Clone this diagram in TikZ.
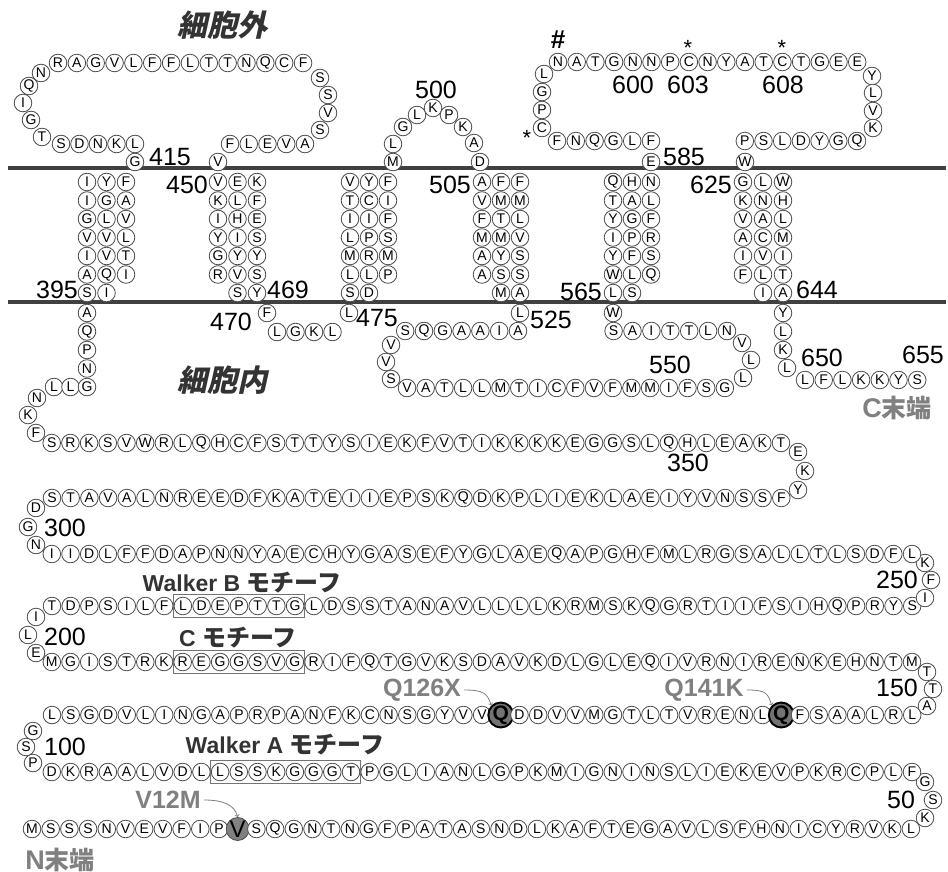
\documentclass[tikz,border=0pt]{standalone}
\usepackage{fontspec}
\setmainfont{Liberation Sans}
\newfontfamily\jp{Noto Sans CJK JP}
\newfontfamily\jpsl{Noto Sans CJK JP}[FakeSlant=0.22]
\definecolor{labc}{HTML}{333333}
\definecolor{mutc}{HTML}{808080}
\newcount\rn
\def\rseg#1#2#3#4#5{\def\sx{#1}\def\sy{#2}\def\sdx{#3}\def\sdy{#4}\rsegloop#5\relax}
\def\rsegloop#1{\ifx#1\relax\else\global\advance\rn by 1\relax\node[res] (r\the\rn) at (\sx,\sy) {#1};\pgfmathsetmacro\sx{\sx+\sdx}\pgfmathsetmacro\sy{\sy+\sdy}\expandafter\rsegloop\fi}
\def\rone#1#2#3{\rseg{#1}{#2}{0}{0}{#3}}
\def\rspec#1#2#3#4{\global\advance\rn by 1\relax\node[#4] (r\the\rn) at (#1,#2) {#3};}
\begin{document}
\begin{tikzpicture}[x=1pt,y=-1pt,
 res/.style={circle,draw=black!70,fill=white,line width=0.8pt,minimum size=17.6pt,inner sep=0pt,font=\fontsize{14}{14}\selectfont},
 vres/.style={circle,draw=black!70,fill=mutc,line width=0.8pt,minimum size=17.6pt,inner sep=0pt,font=\fontsize{24}{24}\selectfont},
 qres/.style={circle,draw=black,fill=black!55,line width=2pt,minimum size=17pt,inner sep=0pt,font=\fontsize{21}{21}\selectfont\bfseries},
 num/.style={inner sep=0pt,font=\fontsize{25}{25}\selectfont},
 region/.style={inner sep=0pt,text=labc,font=\jpsl\bfseries\fontsize{30}{30}\selectfont},
 motif/.style={inner sep=0pt,text=labc,font=\bfseries\fontsize{23}{23}\selectfont},
 mut/.style={inner sep=0pt,text=mutc,font=\bfseries\fontsize{25}{25}\selectfont},
 term/.style={inner sep=0pt,text=mutc,font=\bfseries\fontsize{27}{27}\selectfont},
 starlab/.style={inner sep=0pt,font=\fontsize{22}{22}\selectfont},
 mbox/.style={draw=black!55,line width=0.9pt},
 arr/.style={draw=mutc,line width=0.8pt,->},
 memb/.style={line width=3.5pt,draw=black!75}
]
\useasboundingbox (0,0) rectangle (948,872);
\fill[white] (0,0) rectangle (948,872);
% membranes
\draw[memb] (8,168) -- (946,168);
\draw[memb] (8,302) -- (946,302);
% ---------- residues in sequence order ----------
% R1 (1-48)
\rseg{32}{829}{18.7}{0}{MSSSNVEVFIP}
\rspec{237.7}{829}{V}{vres}
\rseg{256.4}{829}{18.7}{0}{SQGNTNGFPATASNDLKAFTEGAVLSFHNICYRVKL}
\rone{925}{818}{K}\rone{933}{800}{S}\rone{925}{782}{G}
% R2 (52-98)
\rseg{912}{772}{-18.7}{0}{FLPCRKPVEKEILSNINGIMKPGLNAILGPTGGGKSSLLDVLAARKD}
\rone{33}{763}{P}\rone{26}{747}{S}\rone{33}{731}{G}
% R3 (102-148)
\rseg{52}{715}{18.7}{0}{LSGDVLINGAPRPANFKCNSGYVV}
\rspec{500.8}{715}{Q}{qres}
\rseg{519.5}{715}{18.7}{0}{DDVVMGTLTVRENL}
\rspec{781.3}{715}{Q}{qres}
\rseg{800}{715}{18.7}{0}{FSAALRL}
\rone{927}{706}{A}\rone{933}{689}{T}\rone{927}{672}{T}
% R4 (152-198)
\rseg{912}{662}{-18.7}{0}{MTNHEKNERINRVIQELGLDKVADSKVGTQFIRGVSGGERKRTSIGM}
\rone{36}{653}{E}\rone{28}{635}{L}\rone{36}{617}{I}
% R5 (202-248)
\rseg{52}{606}{18.7}{0}{TDPSILFLDEPTTGLDSSTANAVLLLLKRMSKQGRTIIFSIHQPRYS}
\rone{925}{598}{I}\rone{931}{580}{F}\rone{925}{563}{K}
% R6 (252-298)
\rseg{912}{554}{-18.7}{0}{LFDSLTLLASGRLMFHGPAQEALGYFESAGYHCEAYNNPADFFLDII}
\rone{36}{545}{N}\rone{28}{527}{G}\rone{36}{508}{D}
% R7 (302-341)
\rseg{52}{498}{18.7}{0}{STAVALNREEDFKATEIIEPSKQDKPLIEKLAEIYVNSSF}
\rone{798}{490}{Y}\rone{805}{471}{K}\rone{798}{452}{E}
% R8 (345-384)
\rseg{781}{443}{-18.7}{0}{TKAELHQLSGGEKKKKITVFKEISYTTSFCHQLRWVSKRS}
\rone{36}{433}{F}\rone{28}{415}{K}\rone{37}{398}{N}
\rseg{54}{387}{16.5}{0}{LLG}
\rseg{87}{368.5}{0}{-18.5}{NPQA}
% TM1
\rseg{87}{293}{19.5}{0}{SI}
\rseg{87}{274.5}{19.5}{0}{AQI}
\rseg{87}{256}{19.5}{0}{IVT}
\rseg{87}{237.5}{19.5}{0}{VVL}
\rseg{87}{219}{19.5}{0}{GLV}
\rseg{87}{200.5}{19.5}{0}{IGA}
\rseg{87}{182}{19.5}{0}{IYF}
\rone{135}{162}{G}
\rseg{135}{144}{-18.5}{0}{LKNDS}
\rone{42}{137}{T}\rone{31}{120}{G}\rone{23}{103}{I}\rone{29}{86}{Q}\rone{41}{73}{N}
\rseg{58}{63}{18.85}{0}{RAGVLFFLTTNQCF}
\rone{320}{78}{S}\rone{328}{95}{S}\rone{328}{113}{V}\rone{320}{130}{S}
\rseg{305}{144}{-18.75}{0}{AVELF}
\rone{218}{162}{V}
% TM2
\rseg{218}{182}{19.5}{0}{VEK}
\rseg{218}{200.5}{19.5}{0}{KLF}
\rseg{218}{219}{19.5}{0}{IHE}
\rseg{218}{237.5}{19.5}{0}{YIS}
\rseg{218}{256}{19.5}{0}{GYY}
\rseg{218}{274.5}{19.5}{0}{RVS}
\rseg{237.5}{293}{19.5}{0}{SY}
\rone{267}{313}{F}
\rseg{277}{332}{18.5}{0}{LGKL}
\rone{349}{313}{L}
% TM3
\rseg{350}{293}{19}{0}{SD}
\rseg{350}{274.5}{19}{0}{LLP}
\rseg{350}{256}{19}{0}{MRM}
\rseg{350}{237.5}{19}{0}{LPS}
\rseg{350}{219}{19}{0}{IIF}
\rseg{350}{200.5}{19}{0}{TCI}
\rseg{350}{182}{19}{0}{VYF}
\rone{393}{162}{M}\rone{393}{144}{L}\rone{403}{127}{G}\rone{417}{115}{L}\rone{433}{108}{K}\rone{449}{115}{P}\rone{463}{127}{K}\rone{474}{143}{A}\rone{480}{162}{D}
% TM4
\rseg{482}{182}{19}{0}{AFF}
\rseg{482}{200.5}{19}{0}{VMM}
\rseg{482}{219}{19}{0}{FTL}
\rseg{482}{237.5}{19}{0}{MMV}
\rseg{482}{256}{19}{0}{AYS}
\rseg{482}{274.5}{19}{0}{ASS}
\rseg{501}{293}{19}{0}{MA}
\rone{520}{313}{L}
\rseg{518}{331}{-18.8}{0}{AIAAGQS}
\rone{391}{345}{V}\rone{386}{362}{V}\rone{391}{379}{S}
\rseg{407}{388}{18.7}{0}{VATLLMTICFVFMMIFSG}
\rone{743}{378}{L}\rone{751}{360}{L}\rone{742}{343}{V}
\rseg{727}{331}{-18.9}{0}{NLTTIAS}
\rone{613}{313}{W}
% TM5
\rseg{613}{293}{19}{0}{LS}
\rseg{613}{274.5}{19}{0}{WLQ}
\rseg{613}{256}{19}{0}{YFS}
\rseg{613}{237.5}{19}{0}{IPR}
\rseg{613}{219}{19}{0}{YGF}
\rseg{613}{200.5}{19}{0}{TAL}
\rseg{613}{182}{19}{0}{QHN}
\rone{651}{162}{E}
\rseg{651}{141}{-18.8}{0}{FLGQNF}
\rone{542}{128}{C}\rone{542}{110}{P}\rone{542}{92}{G}\rone{544}{74}{L}
\rseg{558}{62}{18.7}{0}{NATGNNPCNYATCTGEE}
\rone{872}{76}{Y}\rone{873}{93}{L}\rone{873}{111}{V}\rone{873}{128}{K}
\rseg{857}{141}{-18.7}{0}{QGYDLSP}
\rone{745}{162}{W}
% TM6
\rseg{743}{182}{20}{0}{GLW}
\rseg{743}{200.5}{20}{0}{KNH}
\rseg{743}{219}{20}{0}{VAL}
\rseg{743}{237.5}{20}{0}{ACM}
\rseg{743}{256}{20}{0}{IVI}
\rseg{743}{274.5}{20}{0}{FLT}
\rseg{763}{293}{20}{0}{IA}
\rseg{783}{313}{0}{18.5}{YLK}
\rone{787}{368}{L}
\rseg{805}{380}{18.7}{0}{LFLKKYS}
% ---------- motif boxes ----------
\draw[mbox] ([yshift=11.5pt]r89.west) rectangle ([yshift=-11.5pt]r82.east);
\draw[mbox] ([yshift=11.5pt]r191.west) rectangle ([yshift=-11.5pt]r185.east);
\draw[mbox] ([yshift=11.5pt]r209.west) rectangle ([yshift=-11.5pt]r215.east);
% ---------- labels ----------
\node[region] (exo) at (222,25) {細胞外};
\node[region] (endo) at (222,380) {細胞内};
\node[motif] (wb) at (242,583) {Walker B {\jp\fontsize{24}{24}\selectfont モチーフ}};
\node[motif] (cm) at (238,638) {C {\jp\fontsize{24}{24}\selectfont モチーフ}};
\node[motif] (wa) at (285,745) {Walker A {\jp\fontsize{24}{24}\selectfont モチーフ}};
\node[mut] (q126x) at (422,690) {Q126X};
\node[mut] (q141k) at (704,690) {Q141K};
\node[mut] (v12m) at (168,800) {V12M};
\node[term] (cterm) at (897,408) {C{\jp\fontsize{25}{25}\selectfont 末端}};
\node[term] (nterm) at (60,860) {N{\jp\fontsize{25}{25}\selectfont 末端}};
\draw[arr] ([xshift=3pt]q126x.east) .. controls +(20,0) and +(-4,-12) .. (r126.north west);
\draw[arr] ([xshift=3pt]q141k.east) .. controls +(20,0) and +(-4,-12) .. (r141.north west);
\draw[arr] ([xshift=3pt]v12m.east) .. controls +(20,0) and +(-3,-12) .. (r12.north);
\node[starlab,font=\bfseries\fontsize{26}{26}\selectfont] (hash) at (558,40) {\#};
\node[starlab] (st1) at (688,48) {*};
\node[starlab] (st2) at (782,48) {*};
\node[starlab] (st3) at (527,138) {*};
% numbers
\node[num] (n415) at (170,157) {415};
\node[num] (n450) at (187,185) {450};
\node[num] (n395) at (57,290) {395};
\node[num] (n469) at (288,290) {469};
\node[num] (n470) at (231,322) {470};
\node[num] (n475) at (377,318) {475};
\node[num] (n500) at (436,90) {500};
\node[num] (n505) at (450,185) {505};
\node[num] (n525) at (551,320) {525};
\node[num] (n565) at (581,292) {565};
\node[num] (n585) at (684,157) {585};
\node[num] (n625) at (711,185) {625};
\node[num] (n644) at (817,290) {644};
\node[num] (n550) at (670,365) {550};
\node[num] (n650) at (822,358) {650};
\node[num] (n655) at (923,355) {655};
\node[num] (n600) at (633,85) {600};
\node[num] (n603) at (688,85) {603};
\node[num] (n608) at (783,85) {608};
\node[num] (n350) at (688,463) {350};
\node[num] (n300) at (65,528) {300};
\node[num] (n250) at (897,580) {250};
\node[num] (n200) at (65,637) {200};
\node[num] (n150) at (897,688) {150};
\node[num] (n100) at (65,747) {100};
\node[num] (n50) at (901,800) {50};
\end{tikzpicture}
\end{document}
